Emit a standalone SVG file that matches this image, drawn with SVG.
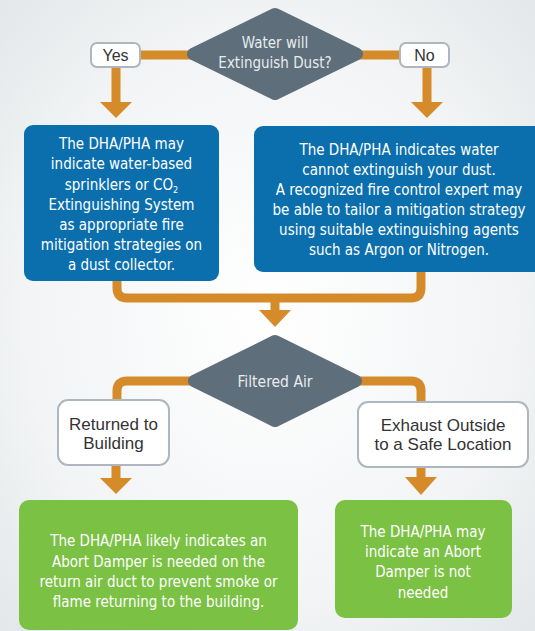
<svg xmlns="http://www.w3.org/2000/svg" width="535" height="631" viewBox="0 0 535 631">
<style>
.bg{fill:url(#bgGrad)}
.wire{fill:none;stroke:#d68b2b;stroke-width:9;stroke-linejoin:round}
.head{fill:#d68b2b}
.dia{fill:#5e6e7a;stroke:#5e6e7a;stroke-width:12;stroke-linejoin:round}
.diaTxt{font-family:"DejaVu Sans Condensed","DejaVu Sans","Liberation Sans",sans-serif;font-stretch:condensed;font-size:15px;fill:#e8ecef;text-anchor:middle}
.lbl{fill:#ffffff;stroke:#aeb7bf;stroke-width:2}
.lblTxt{font-family:"Liberation Sans",Arial,sans-serif;font-size:17px;fill:#333333;text-anchor:middle}
.blue{fill:#0b6fae}
.green{fill:#7bc144}
.wTxt{font-family:"DejaVu Sans Condensed","DejaVu Sans","Liberation Sans",sans-serif;font-stretch:condensed;font-size:15px;fill:#ffffff;text-anchor:middle}
</style>
<defs>
<radialGradient id="bgGrad" cx="0.5" cy="0.5" r="0.75">
<stop offset="0" stop-color="#ffffff"/>
<stop offset="0.6" stop-color="#f2f4f5"/>
<stop offset="1" stop-color="#e1e5e7"/>
</radialGradient>
</defs>
<rect class="bg" x="0" y="0" width="535" height="631"/>

<g id="connectors">
<path class="wire" d="M200,55 H116 V103"/>
<polygon class="head" points="100,102 132,102 116,118"/>
<path class="wire" d="M350,55 H427 V103"/>
<polygon class="head" points="411,102 443,102 427,118"/>
<path class="wire" d="M117,278 V288 Q117,298 127,298 H411 Q421,298 421,288 V268"/>
<path class="wire" d="M275,298 V311"/>
<polygon class="head" points="259,310 291,310 275,327"/>
<path class="wire" d="M200,381 H127 Q117,381 117,391 V403"/>
<path class="wire" d="M350,381 H411 Q421,381 421,391 V405"/>
<path class="wire" d="M116,462 V479"/>
<polygon class="head" points="100,478 132,478 116,494"/>
<path class="wire" d="M421,464 V479"/>
<polygon class="head" points="405,477 437,477 421,495"/>
</g>

<g id="decision-water">
<polygon class="dia" points="275,14 357,54 275,94 193,54"/>
<text class="diaTxt" x="275" y="48">Water will</text>
<text class="diaTxt" x="275" y="68">Extinguish Dust?</text>
</g>

<g id="label-yes">
<rect class="lbl" x="91" y="43" width="49" height="24" rx="6"/>
<text class="lblTxt" x="115.5" y="61" style="font-size:16px">Yes</text>
</g>

<g id="label-no">
<rect class="lbl" x="400" y="43" width="49" height="24" rx="6"/>
<text class="lblTxt" x="424.5" y="61" style="font-size:16px">No</text>
</g>

<g id="box-water-yes">
<rect class="blue" x="24" y="125" width="195" height="156" rx="9"/>
<text class="wTxt" x="121.5" y="149">The DHA/PHA may</text>
<text class="wTxt" x="121.5" y="169">indicate water-based</text>
<text class="wTxt" x="121.5" y="189.5">sprinklers or CO<tspan font-size="9" dy="3">2</tspan></text>
<text class="wTxt" x="121.5" y="209.5">Extinguishing System</text>
<text class="wTxt" x="121.5" y="230">as appropriate fire</text>
<text class="wTxt" x="121.5" y="250">mitigation strategies on</text>
<text class="wTxt" x="121.5" y="270">a dust collector.</text>
</g>

<g id="box-water-no">
<rect class="blue" x="254" y="126" width="295" height="146" rx="9"/>
<text class="wTxt" x="399" y="155">The DHA/PHA indicates water</text>
<text class="wTxt" x="399" y="175">cannot extinguish your dust.</text>
<text class="wTxt" x="399" y="195">A recognized fire control expert may</text>
<text class="wTxt" x="399" y="215">be able to tailor a mitigation strategy</text>
<text class="wTxt" x="399" y="235">using suitable extinguishing agents</text>
<text class="wTxt" x="399" y="255">such as Argon or Nitrogen.</text>
</g>

<g id="decision-filtered">
<polygon class="dia" points="275,341 356,381 275,421 194,381"/>
<text class="diaTxt" x="275" y="387" style="font-size:15.5px">Filtered Air</text>
</g>

<g id="label-returned">
<rect class="lbl" x="58" y="400" width="111" height="65" rx="10"/>
<text class="lblTxt" x="113.5" y="429.5">Returned to</text>
<text class="lblTxt" x="113.5" y="448.5">Building</text>
</g>

<g id="label-exhaust">
<rect class="lbl" x="358" y="402" width="170" height="65" rx="10"/>
<text class="lblTxt" x="443" y="431">Exhaust Outside</text>
<text class="lblTxt" x="443" y="450">to a Safe Location</text>
</g>

<g id="box-returned">
<rect class="green" x="19" y="500" width="279" height="130" rx="10"/>
<text class="wTxt" x="158.5" y="546">The DHA/PHA likely indicates an</text>
<text class="wTxt" x="158.5" y="566.5">Abort Damper is needed on the</text>
<text class="wTxt" x="158.5" y="587">return air duct to prevent smoke or</text>
<text class="wTxt" x="158.5" y="607">flame returning to the building.</text>
</g>

<g id="box-exhaust">
<rect class="green" x="335" y="500" width="177" height="118" rx="10"/>
<text class="wTxt" x="423" y="536.5">The DHA/PHA may</text>
<text class="wTxt" x="423" y="557">indicate an Abort</text>
<text class="wTxt" x="423" y="577">Damper is not</text>
<text class="wTxt" x="423" y="597.5">needed</text>
</g>
</svg>
